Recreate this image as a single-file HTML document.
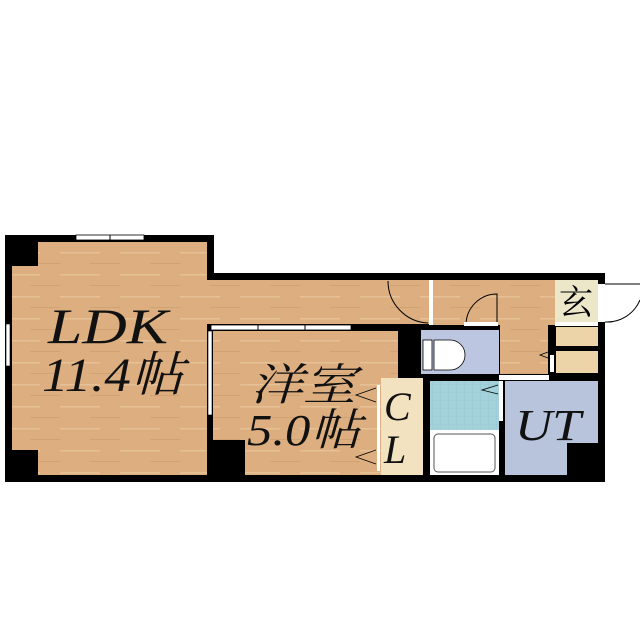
<!DOCTYPE html>
<html><head><meta charset="utf-8"><style>html,body{margin:0;padding:0;background:#fff}svg{display:block}</style></head><body>
<svg width="640" height="640" viewBox="0 0 640 640" xmlns="http://www.w3.org/2000/svg">
<defs>
<pattern id="wood" width="60" height="22" patternUnits="userSpaceOnUse">
<rect width="60" height="22" fill="#dcae80"/><rect y="10" width="40" height="1.5" fill="#e6c196"/><rect x="30" y="21" width="30" height="1" fill="#d1a373"/>
</pattern>
<pattern id="tile" width="8" height="8" patternUnits="userSpaceOnUse"><rect width="8" height="8" fill="#a3d2da"/><path d="M0 0H8M0 0V8" stroke="#92c2cc" stroke-width="0.6"/></pattern>
</defs>
<rect x="5" y="235" width="209" height="247" fill="#000"/>
<rect x="207" y="273" width="398" height="209" fill="#000"/>
<rect x="12" y="242" width="195" height="233" fill="url(#wood)"/>
<rect x="200" y="280" width="230" height="44" fill="url(#wood)"/>
<rect x="213" y="331" width="185" height="144" fill="url(#wood)"/>
<rect x="12" y="242" width="26" height="24" fill="#000"/>
<rect x="12" y="450" width="26" height="25" fill="#000"/>
<rect x="207" y="440" width="38" height="35" fill="#000"/>
<rect x="76" y="235" width="68" height="5" fill="#fff" stroke="#000" stroke-width="0.8"/>
<line x1="110" y1="235" x2="110" y2="240" stroke="#000"/>
<rect x="6" y="324" width="4" height="42" fill="#fff" stroke="#000" stroke-width="0.6"/>
<rect x="208" y="331" width="4" height="84" fill="#fff" stroke="#000" stroke-width="0.6"/>
<rect x="211" y="325" width="140" height="5" fill="#fff" stroke="#000" stroke-width="0.8"/>
<line x1="258" y1="325" x2="258" y2="330" stroke="#000"/><line x1="305" y1="325" x2="305" y2="330" stroke="#000"/>
<path d="M388 281 A42 42 0 0 0 428 323" fill="none" stroke="#000" stroke-width="1"/>
<rect x="429" y="280" width="4" height="45" fill="#fff"/>
<rect x="433" y="280" width="122" height="45" fill="url(#wood)"/>
<rect x="500" y="325" width="48" height="49" fill="url(#wood)"/>
<path d="M466 325 A31 31 0 0 1 497 294 V325" fill="none" stroke="#000" stroke-width="1"/>
<rect x="464" y="322" width="34" height="4" fill="#fff"/>
<rect x="421" y="330" width="78" height="44" fill="#bcc6e0"/>
<rect x="423" y="340" width="9" height="30" fill="#fff" stroke="#000" stroke-width="0.8"/>
<path d="M434 340 H450 A15 15 0 0 1 450 370 H434 Z" fill="#fff" stroke="#000" stroke-width="0.8"/>
<rect x="555" y="280" width="43" height="42" fill="#ece7c8"/>
<text x="576" y="314" font-family="Liberation Serif, 'Noto Serif CJK SC', serif" font-size="34" text-anchor="middle" fill="#000">玄</text>
<rect x="555" y="322" width="43" height="4" fill="#fff"/>
<rect x="556" y="327" width="42" height="19" fill="#ecd3a8"/>
<rect x="556" y="351" width="42" height="22" fill="#ecd3a8"/>
<rect x="548" y="325" width="5" height="48" fill="#000"/>
<rect x="550" y="355" width="4" height="17" fill="#fff"/>
<path d="M548 352 L540 355 L548 358" fill="none" stroke="#000" stroke-width="0.8"/>
<rect x="598" y="284" width="7" height="38" fill="#fff"/>
<path d="M605 284 H640 M605 322 A36 36 0 0 0 640 300" fill="none" stroke="#000" stroke-width="1"/>
<rect x="381" y="378" width="42" height="97" fill="#f2e2bf"/>
<rect x="377" y="385" width="3" height="86" fill="#fff"/>
<path d="M376 388 L356 395 L376 402 M376 450 L356 457 L376 464" fill="none" stroke="#000" stroke-width="0.8"/>
<rect x="430" y="381" width="69" height="49" fill="url(#tile)"/>
<rect x="430" y="430" width="69" height="45" fill="#fff"/>
<rect x="434" y="434" width="61" height="38" rx="4" fill="#fff" stroke="#555" stroke-width="1"/>
<rect x="499" y="381" width="4" height="40" fill="#fff"/>
<path d="M498 385 L482 390 L498 394" fill="none" stroke="#000" stroke-width="0.8"/>
<rect x="505" y="381" width="93" height="94" fill="#b8c4dc"/>
<rect x="567" y="443" width="31" height="32" fill="#000"/>
<rect x="499" y="375" width="50" height="5" fill="#fff"/>
<g font-family="Liberation Serif, 'Noto Serif CJK JP', serif" font-style="italic" fill="#111">
<text x="48" y="343" font-size="50" textLength="120" lengthAdjust="spacingAndGlyphs">LDK</text>
<text x="42" y="391" font-size="48" textLength="142" lengthAdjust="spacingAndGlyphs">11.4帖</text>
<text x="250" y="400" font-size="44" textLength="106" lengthAdjust="spacingAndGlyphs">洋室</text>
<text x="247" y="445" font-size="44" textLength="114" lengthAdjust="spacingAndGlyphs">5.0帖</text>
<text x="384" y="420" font-size="40">C</text>
<text x="384" y="463" font-size="40">L</text>
<text x="515" y="440" font-size="44" textLength="66" lengthAdjust="spacingAndGlyphs">UT</text>
</g>
</svg>
</body></html>
